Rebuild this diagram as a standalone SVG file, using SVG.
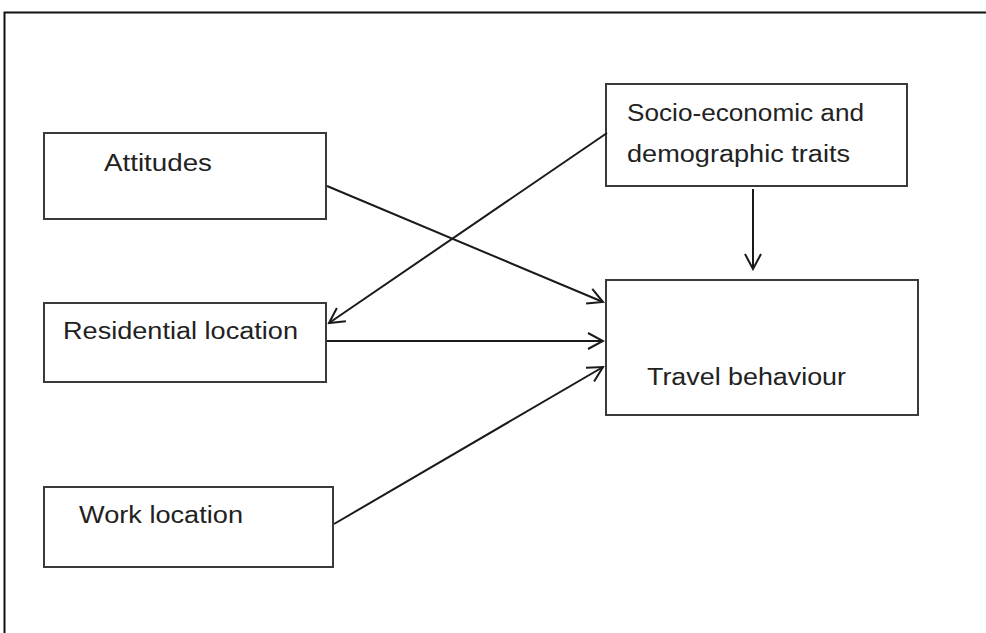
<svg xmlns="http://www.w3.org/2000/svg" width="986" height="633" viewBox="0 0 986 633">
<defs>
<style>
.box{fill:#fff;stroke:#3a3a3a;stroke-width:2}
.lbl{font-family:"Liberation Sans",Arial,sans-serif;font-size:23px;fill:#222}
.edge{fill:none;stroke:#1a1a1a;stroke-width:2}
</style>
<marker id="arr" viewBox="0 0 20 20" refX="18" refY="10" markerWidth="20" markerHeight="20" markerUnits="userSpaceOnUse" orient="auto">
<path d="M3,2 L18,10 L3,18" fill="none" stroke="#1a1a1a" stroke-width="2"/>
</marker>
</defs>
<rect width="986" height="633" fill="#fff"/>
<path d="M4.5,633 L4.5,12.5 L986,12.5" fill="none" stroke="#111" stroke-width="2"/>
<g id="attitudes">
<rect class="box" x="44" y="133" width="282" height="86"/>
<text class="lbl" x="104" y="171" textLength="108" lengthAdjust="spacingAndGlyphs">Attitudes</text>
</g>
<g id="socio">
<rect class="box" x="606" y="84" width="301" height="102"/>
<text class="lbl" x="627" y="121" textLength="237" lengthAdjust="spacingAndGlyphs">Socio-economic and</text>
<text class="lbl" x="627" y="162" textLength="223" lengthAdjust="spacingAndGlyphs">demographic traits</text>
</g>
<g id="residential">
<rect class="box" x="44" y="303" width="282" height="79"/>
<text class="lbl" x="63" y="339" textLength="235" lengthAdjust="spacingAndGlyphs">Residential location</text>
</g>
<g id="travel">
<rect class="box" x="606" y="280" width="312" height="135"/>
<text class="lbl" x="647" y="385" textLength="199" lengthAdjust="spacingAndGlyphs">Travel behaviour</text>
</g>
<g id="work">
<rect class="box" x="44" y="487" width="289" height="80"/>
<text class="lbl" x="79" y="523" textLength="164" lengthAdjust="spacingAndGlyphs">Work location</text>
</g>
<g id="connectors">
<line class="edge" x1="327" y1="186" x2="603" y2="302" marker-end="url(#arr)"/>
<line class="edge" x1="607" y1="133" x2="329" y2="323" marker-end="url(#arr)"/>
<line class="edge" x1="327" y1="341" x2="603" y2="341" marker-end="url(#arr)"/>
<line class="edge" x1="334" y1="524" x2="603" y2="367" marker-end="url(#arr)"/>
<line class="edge" x1="753" y1="189" x2="753" y2="269" marker-end="url(#arr)"/>
</g>
</svg>
